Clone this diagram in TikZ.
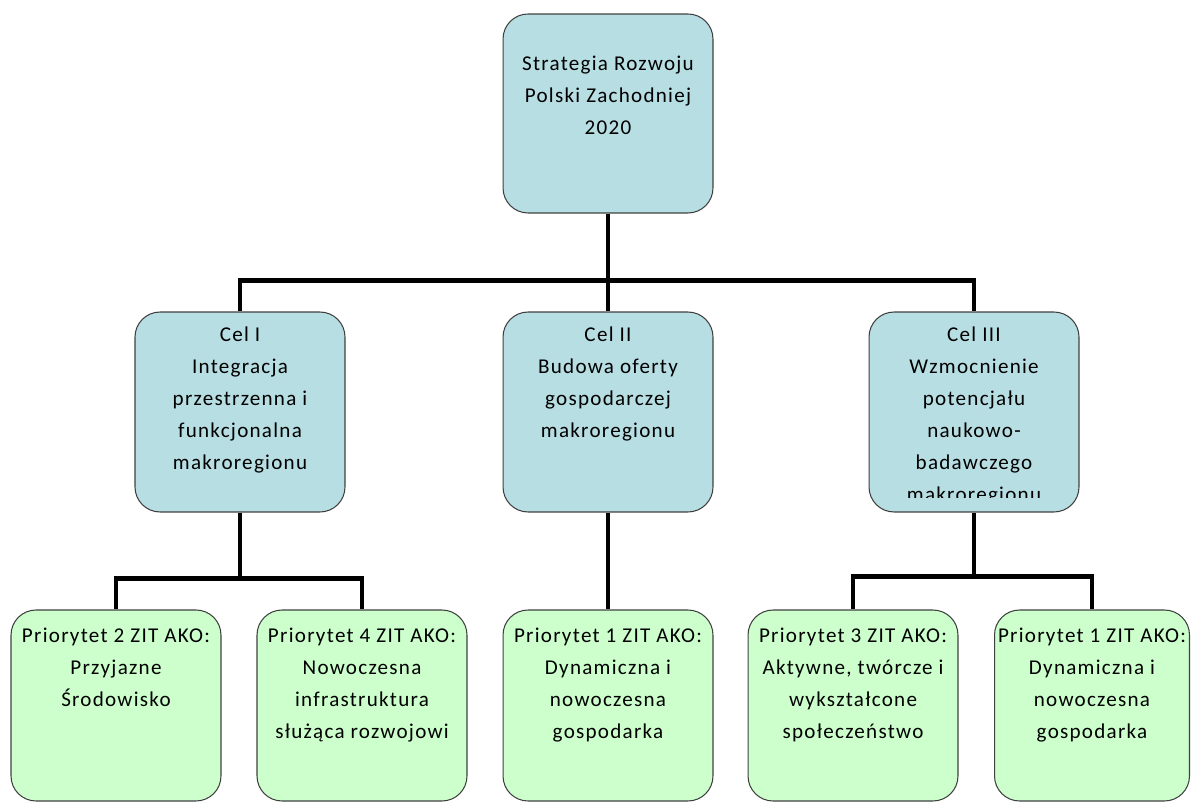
\documentclass[tikz,border=0pt]{standalone}
\usepackage{fontspec}
\setmainfont{Carlito}[LetterSpace=6]
\usetikzlibrary{calc}

\definecolor{celblue}{HTML}{B7DEE3}
\definecolor{prigreen}{HTML}{CCFFCC}
\definecolor{edgegray}{HTML}{404040}

\tikzset{
  box/.style n args={3}{inner sep=0pt, rounded corners=0.5cm,
    execute at begin node={\begin{minipage}[c][#2][t]{#1}\centering
      \fontsize{12}{18.14}\selectfont\vspace*{#3}\strut},
    execute at end node={\end{minipage}}},
  strat/.style={box={4.2cm}{3.98cm}{19.5pt}, draw=edgegray, line width=0.6pt, fill=celblue},
  cel/.style={box={4.2cm}{4cm}{4.2pt}, draw=edgegray, line width=0.6pt, fill=celblue},
  celtxt/.style={box={4.2cm}{4cm}{4.2pt}},
  pri/.style={box={#1}{3.82cm}{5.9pt}, draw=edgegray, line width=0.6pt, fill=prigreen},
  pri/.default={4.2cm},
  link/.style={line width=2.4pt, black}
}

\begin{document}
\begin{tikzpicture}[x=0.02cm, y=-0.02cm]
\useasboundingbox (0,0) rectangle (1192,803);

% top level
\node[strat] (srpz) at (608,113.5) {Strategia Rozwoju\\ Polski Zachodniej\\ 2020};

% cele
\node[cel] (cel1) at (240,412) {Cel I\\ Integracja\\ przestrzenna i\\ funkcjonalna\\ makroregionu};
\node[cel] (cel2) at (608,412) {Cel II\\ Budowa oferty\\ gospodarczej\\ makroregionu};
\node[cel] (cel3) at (974,412) {};
\begin{scope}
\clip (cel3.north west) rectangle ($(cel3.south east)+(0,-15)$);
\node[celtxt] (cel3t) at (cel3) {Cel III\\ Wzmocnienie\\ potencjału\\ naukowo-\\ badawczego\\ makroregionu};
\end{scope}

% priorytety
\node[pri] (pri2) at (116,705.5) {Priorytet 2 ZIT AKO:\\ Przyjazne\\ Środowisko};
\node[pri] (pri4) at (362,705.5) {Priorytet 4 ZIT AKO:\\ Nowoczesna\\ infrastruktura\\ służąca rozwojowi};
\node[pri] (pri1a) at (608,705.5) {Priorytet 1 ZIT AKO:\\ Dynamiczna i\\ nowoczesna\\ gospodarka};
\node[pri] (pri3) at (853,705.5) {Priorytet 3 ZIT AKO:\\ Aktywne, twórcze i\\ wykształcone\\ społeczeństwo};
\node[pri=3.9cm] (pri1b) at (1092,705.5) {Priorytet 1 ZIT AKO:\\ Dynamiczna i\\ nowoczesna\\ gospodarka};

% polaczenia
\coordinate (j0) at ($(srpz.south)+(0,67)$);
\coordinate (j1) at ($(cel1.south)+(0,66)$);
\coordinate (j3) at ($(cel3.south)+(0,64)$);

\draw[link] (srpz.south) -- (cel2.north);
\draw[link] (cel1.north) |- (j0) -| (cel3.north);
\draw[link] (cel2.south) -- (pri1a.north);
\draw[link] (cel1.south) -- (j1);
\draw[link] (pri2.north) |- (j1) -| (pri4.north);
\draw[link] (cel3.south) -- (j3);
\draw[link] (pri3.north) |- (j3) -| (pri1b.north);
\end{tikzpicture}
\end{document}
